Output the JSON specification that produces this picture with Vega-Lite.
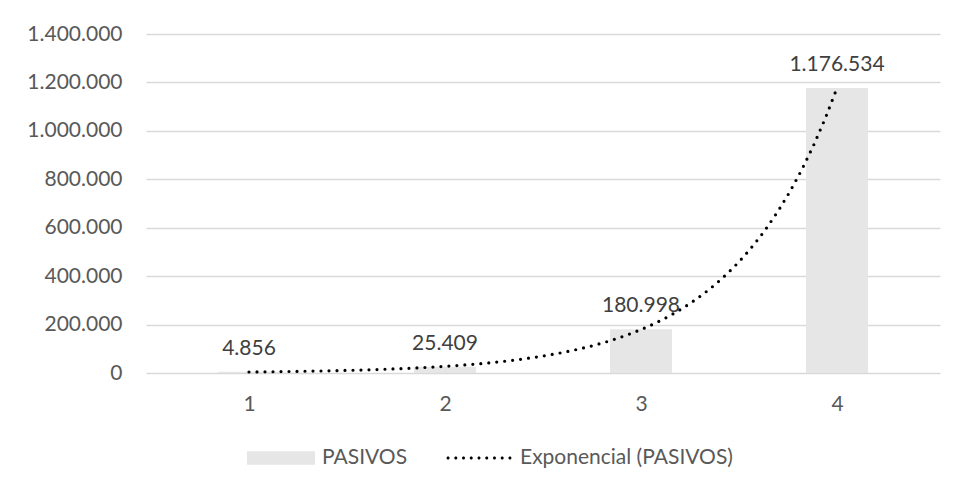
{
  "$schema": "https://vega.github.io/schema/vega-lite/v6.json",
  "width": 794,
  "height": 339,
  "autosize": {"type": "none"},
  "padding": {"left": 146, "top": 34, "right": 16, "bottom": 119},
  "background": "white",
  "data": {"values": [
    {"x": 1, "value": 4856},
    {"x": 2, "value": 25409},
    {"x": 3, "value": 180998},
    {"x": 4, "value": 1176534}
  ]},
  "encoding": {
    "x": {"field": "x", "type": "quantitative", "scale": {"domain": [0.5, 4.5], "nice": false, "zero": false},
      "axis": {"values": [1, 2, 3, 4], "format": "d", "grid": false, "ticks": false, "domain": false, "title": null, "labelPadding": 20}},
    "y": {"field": "value", "type": "quantitative", "scale": {"domain": [0, 1400000], "nice": false},
      "axis": {"values": [0, 200000, 400000, 600000, 800000, 1000000, 1200000, 1400000], "format": ",.0f", "ticks": false, "domain": false, "title": null, "labelPadding": 24}}
  },
  "layer": [
    {
      "mark": {"type": "bar", "width": 62},
      "encoding": {
        "color": {"datum": "PASIVOS", "type": "nominal",
          "scale": {"domain": ["PASIVOS", "Exponencial (PASIVOS)"], "range": ["#e7e6e6", "#000000"]},
          "legend": {
            "orient": "none", "legendX": 101, "legendY": 390, "direction": "horizontal",
            "title": null, "padding": 0, "symbolSize": 4624, "symbolStrokeWidth": 0,
            "labelOffset": 7, "columnPadding": 37, "labelFont": "Lato", "labelFontSize": 21, "labelColor": "#595959",
            "labelLimit": 400,
            "encode": {"symbols": {"update": {
              "shape": {"signal": "datum.value === 'PASIVOS' ? 'M-1,-0.2H1V0.2H-1Z' : 'M-0.955,0a0.045,0.045 0 1,0 0.09,0a0.045,0.045 0 1,0 -0.09,0M-0.7275,0a0.045,0.045 0 1,0 0.09,0a0.045,0.045 0 1,0 -0.09,0M-0.5,0a0.045,0.045 0 1,0 0.09,0a0.045,0.045 0 1,0 -0.09,0M-0.2725,0a0.045,0.045 0 1,0 0.09,0a0.045,0.045 0 1,0 -0.09,0M-0.045,0a0.045,0.045 0 1,0 0.09,0a0.045,0.045 0 1,0 -0.09,0M0.1825,0a0.045,0.045 0 1,0 0.09,0a0.045,0.045 0 1,0 -0.09,0M0.41,0a0.045,0.045 0 1,0 0.09,0a0.045,0.045 0 1,0 -0.09,0M0.6375,0a0.045,0.045 0 1,0 0.09,0a0.045,0.045 0 1,0 -0.09,0M0.865,0a0.045,0.045 0 1,0 0.09,0a0.045,0.045 0 1,0 -0.09,0'"},
              "fill": {"signal": "datum.value === 'PASIVOS' ? '#e7e6e6' : '#000000'"},
              "stroke": {"value": "transparent"},
              "strokeWidth": {"value": 0},
              "opacity": {"value": 1}
            }}}
          }
        }
      }
    },
    {
      "mark": {"type": "text", "baseline": "alphabetic", "dy": -17, "font": "Lato", "fontSize": 21, "color": "#404040"},
      "encoding": {"text": {"field": "value", "type": "quantitative", "format": ",.0f"}}
    },
    {
      "transform": [{"regression": "value", "on": "x", "method": "exp", "extent": [1, 4]}],
      "mark": {"type": "line", "strokeWidth": 3.2, "strokeDash": [0, 8], "strokeCap": "round", "interpolate": "linear"},
      "encoding": {"color": {"datum": "Exponencial (PASIVOS)", "type": "nominal"}}
    }
  ],
  "config": {
    "locale": {"number": {"decimal": ",", "thousands": ".", "grouping": [3], "currency": ["", " €"]}},
    "view": {"stroke": null},
    "axis": {"labelFont": "Lato", "labelFontSize": 21, "labelColor": "#595959", "gridColor": "#d9d9d9", "gridWidth": 1.5}
  }
}
